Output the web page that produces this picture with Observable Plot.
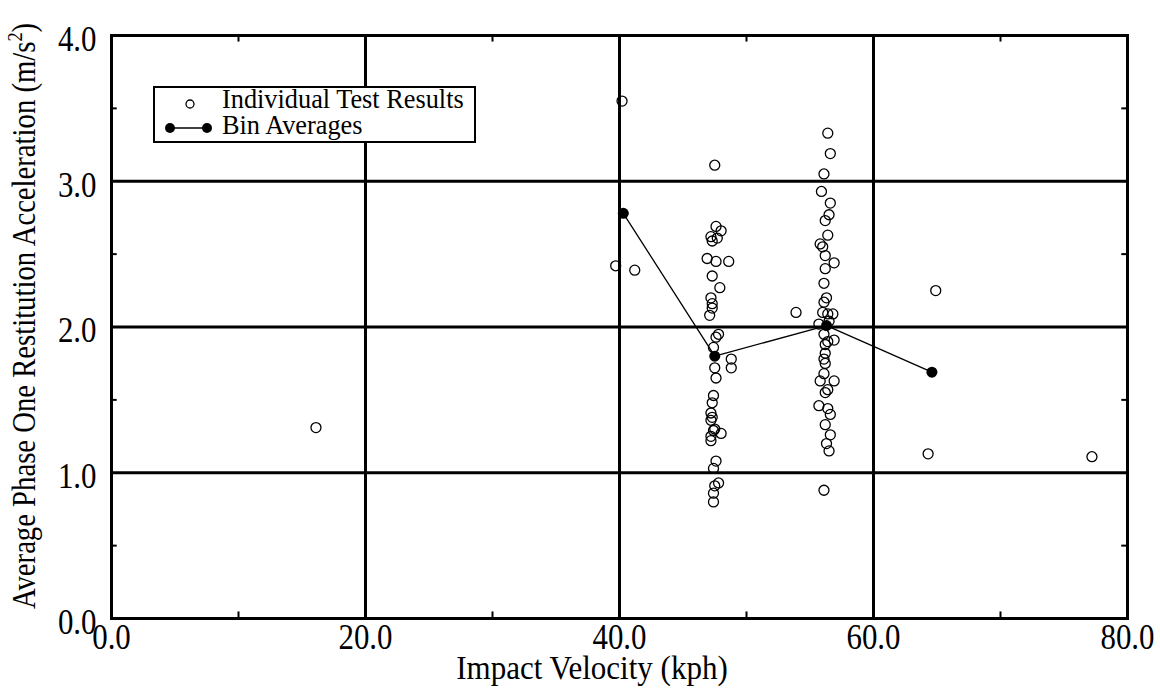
<!DOCTYPE html>
<html>
<head>
<meta charset="utf-8">
<script src="https://cdn.jsdelivr.net/npm/d3@7"></script>
<script src="https://cdn.jsdelivr.net/npm/@observablehq/plot@0.6"></script>
<style>
  html, body { margin: 0; padding: 0; background: #fff; }
  #chart svg { display: block; }
</style>
</head>
<body>
<div id="chart"></div>
<script>
// Individual crash tests: impact velocity (kph) and average phase-one restitution acceleration (m/s²)
const testVelocity = [
  16.1, 39.7, 40.2, 41.2,
  47.5, 47.6, 48.0, 47.2, 47.7, 47.3, 46.9, 47.6, 48.6, 47.3, 47.9, 47.2, 47.3, 47.3, 47.1,
  47.8, 47.6, 47.4, 48.8, 48.8, 47.5, 47.6, 47.4, 47.3, 47.2, 47.3, 47.2, 47.5, 48.0, 47.4,
  47.2, 47.2, 47.6, 47.4, 47.8, 47.5, 47.4, 47.4,
  53.9,
  56.4, 56.6, 56.1, 55.9, 56.6, 56.5, 56.2, 56.4, 55.8, 56.0, 56.2, 56.9, 56.2, 56.1, 56.3,
  56.1, 56.0, 56.4, 56.8, 55.7, 56.5, 56.1, 56.9, 56.4, 56.2, 56.2, 56.1, 56.2, 56.1, 55.8,
  56.9, 56.4, 56.2, 55.7, 56.4, 56.6, 56.2, 56.6, 56.3, 56.5, 56.1,
  64.9, 64.3, 77.2
];
const testAccel = [
  1.31, 2.42, 3.55, 2.39,
  3.11, 2.69, 2.66, 2.62, 2.61, 2.59, 2.47, 2.45, 2.45, 2.35, 2.27, 2.20, 2.16, 2.13, 2.08,
  1.95, 1.93, 1.86, 1.78, 1.72, 1.72, 1.65, 1.53, 1.48, 1.41, 1.38, 1.36, 1.30, 1.27, 1.29,
  1.25, 1.22, 1.08, 1.03, 0.93, 0.91, 0.86, 0.80,
  2.10,
  3.33, 3.19, 3.05, 2.93, 2.85, 2.77, 2.73, 2.63, 2.57, 2.55, 2.49, 2.44, 2.40, 2.30, 2.20,
  2.17, 2.10, 2.09, 2.09, 2.02, 2.04, 1.95, 1.91, 1.90, 1.88, 1.82, 1.78, 1.75, 1.68, 1.63,
  1.63, 1.57, 1.55, 1.46, 1.44, 1.40, 1.33, 1.26, 1.20, 1.15, 0.88,
  2.25, 1.13, 1.11
];

// Averages of the velocity bins
const binVelocity = [40.3, 47.5, 56.3, 64.6];
const binAccel = [2.78, 1.80, 2.01, 1.69];

// Axis ticks
const xTicks = [0, 20, 40, 60, 80];
const yTicks = [0, 1, 2, 3, 4];
const xGrid = [20, 40, 60];
const yGrid = [1, 2, 3];
const xMinor = [10, 30, 50, 70];
const yMinor = [0.5, 1.5, 2.5, 3.5];

const tests = testVelocity.map((v, i) => ({v, a: testAccel[i]}));
const bins = binVelocity.map((v, i) => ({v, a: binAccel[i]}));

const font = "'Liberation Serif', 'Times New Roman', serif";
const fmt = d => d.toFixed(1);
// the serif face used here is drawn somewhat condensed
const squeeze = " scale(0.87,1)";
const squeezeLight = " scale(0.94,1)";

const plot = Plot.plot({
  width: 1160,
  height: 688,
  marginLeft: 111,
  marginRight: 33,
  marginTop: 35,
  marginBottom: 70,
  style: {fontFamily: font, color: "black", background: "white", overflow: "visible"},
  x: {domain: [0, 80]},
  y: {domain: [0, 4]},
  marks: [
    Plot.ruleX(xGrid, {stroke: "black", strokeWidth: 3}),
    Plot.ruleY(yGrid, {stroke: "black", strokeWidth: 3}),
    // inward minor ticks on all four sides
    Plot.ruleX(xMinor, {y1: 0, y2: 0.045, stroke: "black", strokeWidth: 2}),
    Plot.ruleX(xMinor, {y1: 3.955, y2: 4, stroke: "black", strokeWidth: 2}),
    Plot.ruleY(yMinor, {x1: 0, x2: 0.45, stroke: "black", strokeWidth: 2}),
    Plot.ruleY(yMinor, {x1: 79.55, x2: 80, stroke: "black", strokeWidth: 2}),
    Plot.frame({stroke: "black", strokeWidth: 3}),
    Plot.dot(tests, {x: "v", y: "a", r: 5, stroke: "black", strokeWidth: 1.3, fill: "none"}),
    Plot.line(bins, {x: "v", y: "a", stroke: "black", strokeWidth: 1.3}),
    Plot.dot(bins, {x: "v", y: "a", r: 5.5, fill: "black", stroke: "none"}),
    Plot.axisX(xTicks, {tickSize: 0, tickPadding: 5, tickFormat: fmt, fontSize: 35.5, label: null}),
    Plot.axisY(yTicks, {tickSize: 0, tickPadding: 15, tickFormat: fmt, fontSize: 35.5, dy: 4, label: null})
  ]
});

const svg = d3.select(plot);

// condense the tick labels about their anchor points
svg.selectAll("text").each(function() {
  const t = d3.select(this);
  const tr = t.attr("transform");
  if (tr) {
    t.attr("transform", tr + squeeze);
  } else {
    const x = parseFloat(t.attr("x")) || 0;
    const y = t.attr("y");
    const yNum = y && !/em$/.test(y) ? parseFloat(y) : 0;
    if (y && /em$/.test(y)) {
      t.attr("x", null).attr("transform", `translate(${x},${yNum})` + squeeze);
    } else {
      t.attr("x", null).attr("y", null).attr("transform", `translate(${x},${yNum})` + squeeze);
    }
  }
});

// Axis titles
svg.append("text")
  .attr("transform", "translate(592,679)" + squeezeLight)
  .attr("text-anchor", "middle")
  .attr("font-family", font).attr("font-size", 33).attr("fill", "black")
  .text("Impact Velocity (kph)");

const yLabel = svg.append("text")
  .attr("transform", "translate(35,316) rotate(-90)" + squeeze)
  .attr("text-anchor", "middle")
  .attr("font-family", font).attr("font-size", 33).attr("fill", "black");
yLabel.append("tspan").text("Average Phase One Restitution Acceleration (m/s");
yLabel.append("tspan").attr("font-size", 21).attr("dy", -13).text("2");
yLabel.append("tspan").attr("dy", 13).text(")");

// Legend
const lg = svg.append("g").attr("font-family", font).attr("font-size", 28).attr("fill", "black");
lg.append("rect").attr("x", 154).attr("y", 87).attr("width", 321).attr("height", 55)
  .attr("fill", "white").attr("stroke", "black").attr("stroke-width", 2);
lg.append("circle").attr("cx", 190).attr("cy", 104).attr("r", 4)
  .attr("fill", "none").attr("stroke", "black").attr("stroke-width", 1.3);
lg.append("text").attr("text-anchor", "start")
  .attr("transform", "translate(222,108)" + squeezeLight).text("Individual Test Results");
lg.append("line").attr("x1", 170).attr("x2", 207).attr("y1", 128).attr("y2", 128)
  .attr("stroke", "black").attr("stroke-width", 1.3);
lg.append("circle").attr("cx", 170).attr("cy", 128).attr("r", 5).attr("fill", "black");
lg.append("circle").attr("cx", 207).attr("cy", 128).attr("r", 5).attr("fill", "black");
lg.append("text").attr("text-anchor", "start")
  .attr("transform", "translate(222,134)" + squeezeLight).text("Bin Averages");

document.getElementById("chart").appendChild(plot);
</script>
</body>
</html>
